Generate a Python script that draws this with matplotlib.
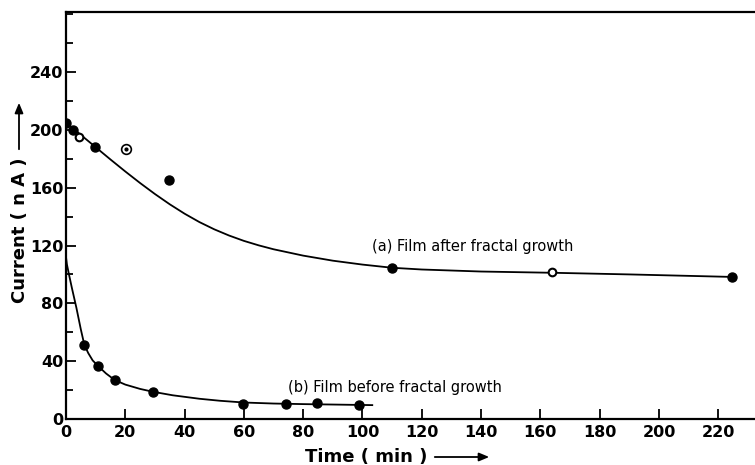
import matplotlib
matplotlib.use("Agg")
import matplotlib.pyplot as plt
from matplotlib.ticker import MultipleLocator

# ---- data ----
# (a) film after fractal growth: measured points
a_filled_x = [0, 2.2, 9.7, 34.8, 109.8, 224.7]
a_filled_y = [205, 200, 188, 165, 104.2, 98.4]
a_open_x = [4.5, 164]
a_open_y = [195, 101.4]
a_dot_x = [20.1]
a_dot_y = [186.7]
# (a) hand-drawn curve, traced
a_curve_x = [0, 5, 10, 15, 20, 25, 30, 35, 40, 45, 50, 55, 60, 65, 70, 80, 90, 100, 110, 120, 140, 165, 190, 210, 226]
a_curve_y = [205, 196.5, 188, 179.5, 171.2, 163.2, 155.6, 148.5, 142.0, 136.2, 131.2, 126.9, 123.2,
             120.1, 117.4, 113.0, 109.5, 106.8, 104.6, 103.4, 102.0, 101.1, 100.0, 99.0, 98.2]

# (b) film before fractal growth
b_x = [6.2, 10.9, 16.4, 29.4, 59.8, 74.2, 84.8, 98.9]
b_y = [51.2, 36.7, 26.8, 18.7, 10.6, 10.4, 11.1, 9.9]
b_curve_x = [0, 0.3, 1, 2, 3.5, 5, 6.2, 7.5, 9, 10.9, 13.5, 16.4, 20, 25, 29.4, 36, 45, 52, 60, 70, 80, 90, 103.3]
b_curve_y = [112, 107, 100, 90.5, 77, 62, 51.2, 45.6, 40.5, 36.5, 31.5, 27.0, 23.8, 20.8, 18.8, 16.4, 14.0,
             12.6, 11.4, 10.7, 10.3, 10.0, 9.6]

x_ticks = [0, 20, 40, 60, 80, 100, 120, 140, 160, 180, 200, 220]
y_ticks = [0, 40, 80, 120, 160, 200, 240]

W, H = 755, 465
fig = plt.figure(figsize=(W / 100, H / 100), dpi=100)
ax = fig.add_axes([66 / W, (H - 419) / H, (W - 66) / W, (419 - 12) / H])

ax.plot(a_curve_x, a_curve_y, color="black", lw=1.3, zorder=2, solid_joinstyle="round")
ax.plot(b_curve_x, b_curve_y, color="black", lw=1.3, zorder=2, solid_joinstyle="round")
ax.plot(a_filled_x, a_filled_y, "o", color="black", ms=6.5, zorder=3)
ax.plot(a_open_x, a_open_y, "o", mfc="white", mec="black", mew=1.5, ms=5.5, zorder=3)
ax.plot(a_dot_x, a_dot_y, "o", mfc="white", mec="black", mew=1.2, ms=7, zorder=3)
ax.plot(a_dot_x, a_dot_y, "o", color="black", ms=2, zorder=4)
ax.plot(b_x, b_y, "o", color="black", ms=6.5, zorder=3)

ax.set_xlim(0, 232.4)
ax.set_ylim(0, 281.5)
ax.set_xticks(x_ticks)
ax.set_yticks(y_ticks)
ax.yaxis.set_minor_locator(MultipleLocator(20))
ax.tick_params(axis="both", which="both", direction="in", width=1.3, length=7,
               labelsize=11.5, pad=4)
ax.tick_params(axis="y", which="both", pad=2)
ax.tick_params(axis="y", which="minor", length=5)
for lab in ax.get_xticklabels() + ax.get_yticklabels():
    lab.set_fontweight("semibold")
    lab.set_family("DejaVu Sans")

ax.spines["right"].set_visible(False)
for s in ["left", "bottom", "top"]:
    ax.spines[s].set_linewidth(1.6)

ax.text(103.2, 119, "(a) Film after fractal growth", fontsize=10.5, family="DejaVu Sans",
        ha="left", va="center")
ax.text(74.9, 22.1, "(b) Film before fractal growth", fontsize=10.5, family="DejaVu Sans",
        ha="left", va="center")

# axis titles with arrows (figure pixel positions)
def fx(px):
    return px / W

def fy(py):
    return 1 - py / H

fig.text(fx(305), fy(457), "Time ( min )", fontsize=13, fontweight="bold",
         ha="left", va="center", family="DejaVu Sans")
fig.add_artist(matplotlib.patches.FancyArrowPatch((fx(432), fy(457)), (fx(492), fy(457)),
               transform=fig.transFigure, arrowstyle="-|>,head_length=6,head_width=2.5",
               color="black", lw=1.3))
fig.text(fx(20), fy(303), "Current ( n A )", fontsize=13, fontweight="bold",
         rotation=90, ha="center", va="bottom", family="DejaVu Sans")
fig.add_artist(matplotlib.patches.FancyArrowPatch((fx(19), fy(152)), (fx(19), fy(100)),
               transform=fig.transFigure, arrowstyle="-|>,head_length=6,head_width=2.5",
               color="black", lw=1.3))

fig.savefig("out.png", dpi=100)
